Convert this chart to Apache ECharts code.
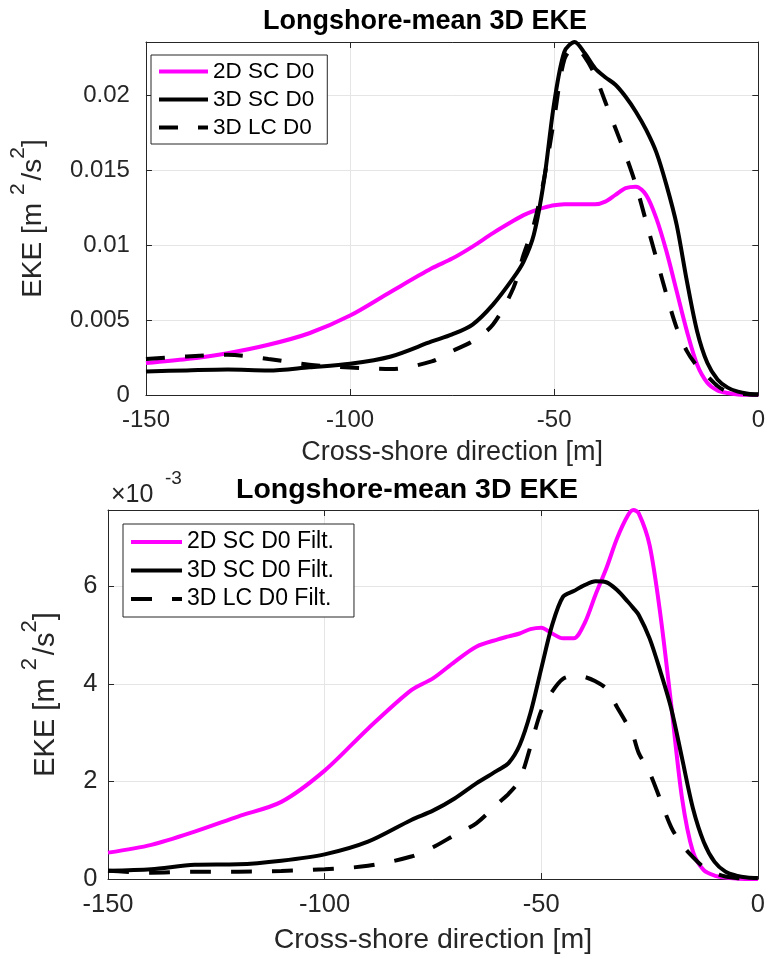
<!DOCTYPE html>
<html><head><meta charset="utf-8">
<script src="https://cdn.jsdelivr.net/npm/echarts@6/dist/echarts.min.js"></script>
<style>html,body{margin:0;padding:0;background:#fff}#c{width:768px;height:959px}</style>
</head><body><div id="c"></div>
<script>
// ---------- data ----------
// cross-shore position [m]
const xTop = [-150,-140,-130,-120,-110,-100,-90,-80,-75,-70,-65,-60,-57.5,-55,-52.5,-50,-47.5,-45,-42.5,-40,-37.5,-35,-32.5,-30,-27.5,-25,-22.5,-20,-17.5,-15,-12.5,-10,-7.5,-5,-2.5,0];
// top panel EKE [m^2/s^2]
const eke2dSC = [0.00213,0.00240,0.00279,0.00335,0.00412,0.00530,0.00689,0.00845,0.0091,0.0099,0.0108,0.01162,0.0120,0.01229,0.0125,0.01266,0.01272,0.01273,0.01273,0.01272,0.0129,0.01335,0.0138,0.0139,0.01335,0.0118,0.00958,0.00692,0.00426,0.00204,0.00082,0.00031,0.00013,0.00004,0.00001,0];
const eke3dSC = [0.00157,0.00164,0.00170,0.00164,0.00185,0.00208,0.00257,0.00357,0.00404,0.0047,0.00603,0.00781,0.0089,0.01069,0.0143,0.0195,0.0229,0.02355,0.0228,0.0218,0.0212,0.0207,0.0199,0.0189,0.0177,0.0162,0.0140,0.01135,0.0076,0.00426,0.00215,0.00104,0.00049,0.00022,0.00009,0.00005];
const eke3dLC = [0.00240,0.00257,0.00268,0.00240,0.00202,0.00184,0.00173,0.00224,0.00293,0.00359,0.0047,0.00714,0.00936,0.01135,0.0144,0.01845,0.0224,0.0232,0.02255,0.02133,0.01956,0.01779,0.01601,0.01402,0.01158,0.00914,0.0067,0.00448,0.00293,0.00193,0.00126,0.0006,0.00022,0.00009,0.00004,0.00002];

const xBot = [-150,-140,-130,-120,-110,-100,-90,-80,-75,-70,-65,-60,-57.5,-55,-52.5,-50,-47.5,-45,-42.5,-40,-37.5,-35,-32.5,-30,-28.75,-27.5,-25,-22.5,-20,-17.5,-15,-12.5,-10,-7.5,-5,-2.5,0];
// bottom panel EKE, in units of 1e-3 m^2/s^2
const eke2dSCFilt = [0.54,0.70,0.97,1.28,1.58,2.22,3.08,3.87,4.11,4.45,4.76,4.91,4.97,5.03,5.12,5.15,5.03,4.93,4.93,5.24,5.82,6.36,6.98,7.45,7.56,7.49,6.84,5.41,3.56,1.65,0.56,0.18,0.07,0.03,0.01,0,0];
const eke3dSCFilt = [0.17,0.20,0.29,0.30,0.375,0.505,0.765,1.21,1.40,1.65,1.96,2.23,2.38,2.74,3.40,4.31,5.20,5.78,5.90,6.02,6.10,6.08,5.92,5.68,5.55,5.41,4.93,4.25,3.49,2.47,1.45,0.76,0.35,0.15,0.07,0.03,0.02];
const eke3dLCFilt = [0.17,0.13,0.15,0.15,0.165,0.20,0.27,0.46,0.65,0.90,1.14,1.55,1.75,2.03,2.71,3.45,3.84,4.10,4.16,4.14,4.05,3.90,3.52,3.14,2.92,2.58,2.18,1.62,1.06,0.70,0.45,0.24,0.12,0.05,0.02,0.01,0.01];

const namesTop = ['2D SC D0','3D SC D0','3D LC D0'];
const namesBot = ['2D SC D0 Filt.','3D SC D0 Filt.','3D LC D0 Filt.'];
const xTicks = {min:-150, max:0, interval:50};
const yTopTicks = {min:0, max:0.02355, interval:0.005};
const yBotTicks = {min:0, max:7.56, interval:2};

// ---------- styling ----------
const FONT = 'Liberation Sans, Arial, Helvetica, sans-serif';
const AX = '#262626';
const GRIDC = '#e5e5e5';
const pairs = (xs, ys) => xs.map((x, i) => [x, ys[i]]);

function xAxisDef(gi, pos, main, fs, margin, name, nameGap, nfs) {
  return {
    type:'value', gridIndex:gi, position:pos, min:xTicks.min, max:xTicks.max, interval:xTicks.interval,
    axisLine:{show:true, onZero:false, lineStyle:{color:AX, width:1}},
    axisTick:{show:true, inside:true, length:6, lineStyle:{color:AX}},
    axisLabel:{show:main, margin:margin, fontSize:fs, fontFamily:FONT, color:AX},
    splitLine:{show:main, lineStyle:{color:GRIDC, width:1}},
    name: main ? name : '', nameLocation:'middle', nameGap:nameGap,
    nameTextStyle:{fontSize:nfs, fontFamily:FONT, color:AX}
  };
}
function yAxisDef(gi, pos, main, t, fs, margin, nameGap, nfs, sfs, pad) {
  return {
    type:'value', gridIndex:gi, position:pos, min:t.min, max:t.max, interval:t.interval,
    axisLine:{show:true, onZero:false, lineStyle:{color:AX, width:1}},
    axisTick:{show:true, inside:true, length:6, lineStyle:{color:AX}},
    axisLabel:{show:main, margin:margin, fontSize:fs, fontFamily:FONT, color:AX, showMaxLabel:false},
    splitLine:{show:main, lineStyle:{color:GRIDC, width:1}},
    name: main ? '{n|EKE [m }{s|2}{g|}{n|/s}{s|2}{n|]}' : '',
    nameLocation:'middle', nameGap:nameGap, nameRotate:90,
    nameTextStyle:{fontFamily:FONT, color:AX, rich:{
      n:{fontSize:nfs, lineHeight:nfs, fontFamily:FONT, color:AX, verticalAlign:'middle'},
      g:{fontSize:nfs, lineHeight:nfs, width:3},
      s:{fontSize:sfs, lineHeight:sfs, fontFamily:FONT, color:AX, verticalAlign:'middle', padding:[0,0,pad,0]}
    }}
  };
}
function lineSeries(name, xi, yi, xs, ys, color, dash) {
  return {
    name:name, type:'line', xAxisIndex:xi, yAxisIndex:yi, data:pairs(xs, ys),
    symbol:'none', showSymbol:false, smooth:0.3, clip:true,
    lineStyle:{color:color, width:4, type:dash || 'solid', cap:'butt'},
    itemStyle:{color:color}
  };
}
function legendDef(names, left, top, pad, iw, gap, fs, lh) {
  return {
    data:names, orient:'vertical', left:left, top:top, padding:pad,
    itemWidth:iw, itemHeight:14, itemGap:gap, backgroundColor:'#fff', borderColor:AX, borderWidth:1, borderRadius:0,
    itemStyle:{opacity:0, borderWidth:0},
    lineStyle:{width:4, type:'inherit', cap:'butt'},
    textStyle:{fontSize:fs, lineHeight:lh, fontFamily:FONT, color:'#000'}
  };
}

const chart = echarts.init(document.getElementById('c'), null, {renderer:'canvas'});
chart.setOption({
  animation:false,
  backgroundColor:'#fff',
  title:[
    {text:'Longshore-mean 3D EKE', left:425, top:8, padding:0, textAlign:'center', textVerticalAlign:'top',
     textStyle:{fontSize:27, fontWeight:'bold', fontFamily:FONT, color:'#000'}},
    {text:'Longshore-mean 3D EKE', left:407, top:476, padding:0, textAlign:'center', textVerticalAlign:'top',
     textStyle:{fontSize:28.5, fontWeight:'bold', fontFamily:FONT, color:'#000'}}
  ],
  grid:[
    {left:137, top:42, width:624, height:353, show:false},
    {left:108, top:510, width:653, height:369, show:false}
  ],
  xAxis:[
    xAxisDef(0,'bottom',true,24,13,'Cross-shore direction [m]',44,27),
    xAxisDef(0,'top',false,24,13,'',0,27),
    xAxisDef(1,'bottom',true,25.5,12.5,'Cross-shore direction [m]',47,28.5),
    xAxisDef(1,'top',false,25.5,12,'',0,28.5)
  ],
  yAxis:[
    yAxisDef(0,'left',true,yTopTicks,24,16,76,28,21,30),
    yAxisDef(0,'right',false,yTopTicks,24,16,0,28,21,30),
    yAxisDef(1,'left',true,yBotTicks,25.5,10.5,21,29,22,31),
    yAxisDef(1,'right',false,yBotTicks,25.5,10,0,29,22,31)
  ],
  legend:[
    legendDef(namesTop,151,55,[5,13,5,6],49,5,22.5,23),
    legendDef(namesBot,123,524,[6,20,6,6],51,4.5,23,24)
  ],
  graphic:[
    {type:'text', left:111, top:483, style:{text:'×10', font:'25px ' + FONT, fill:AX}},
    {type:'text', left:165, top:469, style:{text:'-3', font:'19px ' + FONT, fill:AX}}
  ],
  series:[
    lineSeries(namesTop[0],0,0,xTop,eke2dSC,'#ff00ff'),
    lineSeries(namesTop[1],0,0,xTop,eke3dSC,'#000000'),
    lineSeries(namesTop[2],0,0,xTop,eke3dLC,'#000000',[19,20]),
    lineSeries(namesBot[0],2,2,xBot,eke2dSCFilt,'#ff00ff'),
    lineSeries(namesBot[1],2,2,xBot,eke3dSCFilt,'#000000'),
    lineSeries(namesBot[2],2,2,xBot,eke3dLCFilt,'#000000',[21,20])
  ]
});
</script></body></html>
